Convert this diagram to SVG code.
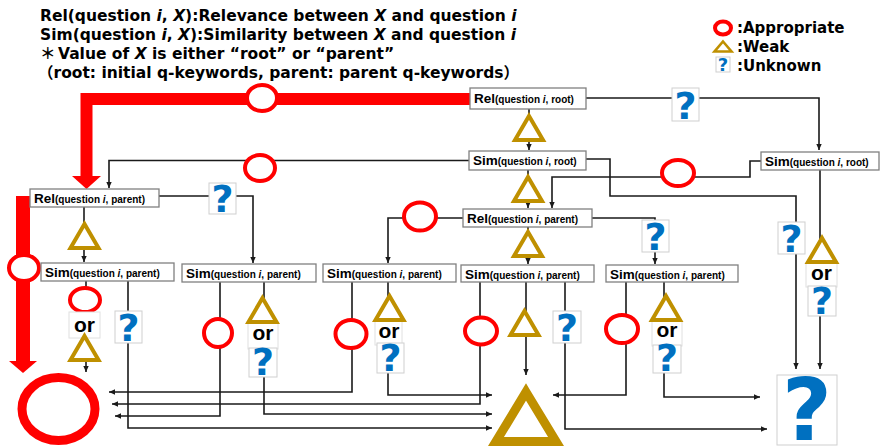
<svg xmlns="http://www.w3.org/2000/svg" width="881" height="448" viewBox="0 0 881 448">
<style>
.hdr{font-family:"DejaVu Sans","Liberation Sans",sans-serif;font-weight:bold;font-size:15.5px;fill:#000}
.leg{font-family:"DejaVu Sans","Liberation Sans",sans-serif;font-weight:bold;font-size:15px;fill:#000}
.it{font-style:italic}
.box{fill:#fff;stroke:#808080;stroke-width:1.3}
.nt{font-family:"Liberation Sans",Arial,sans-serif;font-weight:bold;font-size:10px;fill:#000}
.big{font-size:13.5px}
.ln{fill:none;stroke:#1a1a1a;stroke-width:1.6}
.red{fill:none;stroke:#ff0000}
.redf{fill:#ff0000}
.circ{fill:#fff;stroke:#ff0000;stroke-width:4}
.tri{fill:#fff;stroke:#bf9000;stroke-width:4}
.qb{fill:#fff;stroke:#cfcfcf;stroke-width:1}
.q{fill:#0070c0;font-family:"DejaVu Sans",sans-serif;font-weight:bold;font-size:38px;text-anchor:middle}
.qs{font-size:18px}
.qL{font-size:86px}
.orb{fill:#fff;stroke:#e0e0e0;stroke-width:1}
.or{font-family:"Liberation Sans",Arial,sans-serif;font-weight:bold;font-size:21px;text-anchor:middle;fill:#000}
</style>
<defs>
<marker id="ah" viewBox="0 0 10 10" refX="10" refY="5" markerWidth="6" markerHeight="6" markerUnits="userSpaceOnUse" orient="auto">
<path d="M0,0.5 L10,5 L0,9.5 Z" fill="#1a1a1a"/>
</marker>
<path id="tri" d="M0,-12 L14,12 L-14,12 Z"/>
</defs>
<rect width="881" height="448" fill="#fff"/>

<g id="header">
<text class="hdr" x="40" y="21">Rel(question <tspan class="it">i</tspan>, <tspan class="it">X</tspan>):Relevance between <tspan class="it">X</tspan> and question <tspan class="it">i</tspan></text>
<text class="hdr" x="40" y="40">Sim(question <tspan class="it">i</tspan>, <tspan class="it">X</tspan>):Similarity between <tspan class="it">X</tspan> and question <tspan class="it">i</tspan></text>
<text class="hdr" x="40" y="59"><tspan font-family="'Noto Sans CJK JP',sans-serif">＊</tspan><tspan x="58">Value of </tspan><tspan class="it">X</tspan> is either “root” or “parent”</text>
<text class="hdr" x="38" y="78"><tspan font-family="'Noto Sans CJK JP',sans-serif">（</tspan>root: initial q-keywords, parent: parent q-keywords<tspan font-family="'Noto Sans CJK JP',sans-serif">）</tspan></text>
</g>

<g id="legend">
<ellipse class="circ" cx="723" cy="28" rx="8" ry="6.5" stroke-width="2.6"/>
<path d="M723,41.5 L731.5,51.5 L714.5,51.5 Z" fill="#fff" stroke="#bf9000" stroke-width="2.6"/>
<rect class="qb" x="716" y="57" width="14" height="15"/>
<text class="q qs" x="723" y="71">?</text>
<text class="leg" x="737" y="33">:Appropriate</text>
<text class="leg" x="737" y="52">:Weak</text>
<text class="leg" x="737" y="71">:Unknown</text>
</g>

<g id="connectors">
<path class="red" d="M470,99 H86.5 V178" stroke-width="12"/>
<polygon class="redf" points="72,176 101,176 86.5,189"/>
<path class="red" d="M23,196 V362" stroke-width="14"/>
<polygon class="redf" points="9,361 37,361 23,373"/>
<path class="ln" d="M586,98 H819 V150" marker-end="url(#ah)"/>
<path class="ln" d="M529,109 V150" marker-end="url(#ah)"/>
<path class="ln" d="M469,160.5 H109 V188" marker-end="url(#ah)"/>
<path class="ln" d="M586,159 H610 V196 H796 V369" marker-end="url(#ah)"/>
<path class="ln" d="M528,170 V208" marker-end="url(#ah)"/>
<path class="ln" d="M761,161 H750 V177 H552 V208" marker-end="url(#ah)"/>
<path class="ln" d="M820,170 V369" marker-end="url(#ah)"/>
<path class="ln" d="M159,196 H253 V263" marker-end="url(#ah)"/>
<path class="ln" d="M84,207 V262" marker-end="url(#ah)"/>
<path class="ln" d="M463,218 H388 V263" marker-end="url(#ah)"/>
<path class="ln" d="M592,218 H655 V264" marker-end="url(#ah)"/>
<path class="ln" d="M528,227 V264" marker-end="url(#ah)"/>
<path class="ln" d="M86,281 V372" marker-end="url(#ah)"/>
<path class="ln" d="M128,281 V428 H492" marker-end="url(#ah)"/>
<path class="ln" d="M220,282 V416 H115" marker-end="url(#ah)"/>
<path class="ln" d="M264,282 V414 H492" marker-end="url(#ah)"/>
<path class="ln" d="M352,282 V392 H109" marker-end="url(#ah)"/>
<path class="ln" d="M388,282 V395 H492" marker-end="url(#ah)"/>
<path class="ln" d="M480,282 V404 H112" marker-end="url(#ah)"/>
<path class="ln" d="M526,282 V375" marker-end="url(#ah)"/>
<path class="ln" d="M565,282 V429 H767" marker-end="url(#ah)"/>
<path class="ln" d="M626,282 V395 H553" marker-end="url(#ah)"/>
<path class="ln" d="M664,282 V397 H760" marker-end="url(#ah)"/>
</g>

<g id="labels">
<ellipse class="circ" cx="262" cy="98" rx="15" ry="13"/>
<ellipse class="circ" cx="260" cy="168" rx="15" ry="13"/>
<ellipse class="circ" cx="678" cy="173" rx="16" ry="13"/>
<ellipse class="circ" cx="420" cy="216.5" rx="16" ry="14"/>
<ellipse class="circ" cx="24" cy="268" rx="15" ry="13" stroke-width="5"/>
<ellipse class="circ" cx="85" cy="300" rx="15" ry="12"/>
<ellipse class="circ" cx="218" cy="333" rx="14" ry="14"/>
<ellipse class="circ" cx="351" cy="334" rx="15.5" ry="14"/>
<ellipse class="circ" cx="481" cy="331" rx="16" ry="13.5"/>
<ellipse class="circ" cx="622" cy="329" rx="16" ry="14"/>

<use href="#tri" class="tri" x="529" y="128"/>
<use href="#tri" class="tri" x="528" y="189"/>
<use href="#tri" class="tri" x="528" y="244"/>
<use href="#tri" class="tri" x="84.5" y="236"/>
<use href="#tri" class="tri" x="524.5" y="323"/>

<rect class="orb" x="69" y="312" width="31" height="26"/>
<text class="or" x="84.5" y="332">or</text>
<use href="#tri" class="tri" x="84.5" y="348"/>

<rect class="orb" x="248" y="323" width="30" height="26"/>
<text class="or" x="263" y="340">or</text>
<use href="#tri" class="tri" x="262.5" y="310"/>
<rect class="qb" x="249" y="348" width="28" height="29"/>
<text class="q" x="263" y="375">?</text>

<rect class="orb" x="375" y="321" width="27" height="24"/>
<text class="or" x="389" y="338">or</text>
<use href="#tri" class="tri" x="389.5" y="308"/>
<rect class="qb" x="377" y="343" width="27" height="30"/>
<text class="q" x="390.5" y="371">?</text>

<rect class="orb" x="652" y="321" width="30" height="25"/>
<text class="or" x="667" y="337">or</text>
<use href="#tri" class="tri" x="666" y="308"/>
<rect class="qb" x="653" y="345" width="28" height="28"/>
<text class="q" x="667" y="371">?</text>

<rect class="orb" x="806" y="263" width="31" height="24"/>
<text class="or" x="821.5" y="280">or</text>
<use href="#tri" class="tri" x="822" y="250"/>
<rect class="qb" x="808" y="286" width="28" height="30"/>
<text class="q" x="822" y="314">?</text>

<rect class="qb" x="672" y="88" width="27" height="33"/>
<text class="q" x="685.5" y="119">?</text>
<rect class="qb" x="778" y="222" width="27" height="32"/>
<text class="q" x="791.5" y="252">?</text>
<rect class="qb" x="209" y="183" width="27" height="31"/>
<text class="q" x="222.5" y="212">?</text>
<rect class="qb" x="642" y="220" width="27" height="32"/>
<text class="q" x="655.5" y="250">?</text>
<rect class="qb" x="115" y="311" width="27" height="32"/>
<text class="q" x="128.5" y="341">?</text>
<rect class="qb" x="553" y="311" width="28" height="32"/>
<text class="q" x="567" y="341">?</text>
</g>

<g id="n-rel-root">
<rect class="box" x="470" y="88" width="116" height="21"/>
<text class="nt" x="474" y="103"><tspan class="big">Rel</tspan>(question <tspan class="it">i</tspan>, root)</text>
</g>
<g id="n-sim-root-1">
<rect class="box" x="469" y="151" width="117" height="19"/>
<text class="nt" x="473" y="165"><tspan class="big">Sim</tspan>(question <tspan class="it">i</tspan>, root)</text>
</g>
<g id="n-sim-root-2">
<rect class="box" x="761" y="152" width="118" height="18"/>
<text class="nt" x="765" y="166"><tspan class="big">Sim</tspan>(question <tspan class="it">i</tspan>, root)</text>
</g>
<g id="n-rel-parent-1">
<rect class="box" x="30" y="189" width="129" height="18"/>
<text class="nt" x="34" y="203"><tspan class="big">Rel</tspan>(question <tspan class="it">i</tspan>, parent)</text>
</g>
<g id="n-rel-parent-2">
<rect class="box" x="463" y="209" width="129" height="18"/>
<text class="nt" x="467" y="223"><tspan class="big">Rel</tspan>(question <tspan class="it">i</tspan>, parent)</text>
</g>
<g id="n-sim-parent-1">
<rect class="box" x="41" y="263" width="133" height="18"/>
<text class="nt" x="45" y="277"><tspan class="big">Sim</tspan>(question <tspan class="it">i</tspan>, parent)</text>
</g>
<g id="n-sim-parent-2">
<rect class="box" x="182" y="264" width="134" height="18"/>
<text class="nt" x="186" y="278"><tspan class="big">Sim</tspan>(question <tspan class="it">i</tspan>, parent)</text>
</g>
<g id="n-sim-parent-3">
<rect class="box" x="323" y="264" width="133" height="18"/>
<text class="nt" x="327" y="278"><tspan class="big">Sim</tspan>(question <tspan class="it">i</tspan>, parent)</text>
</g>
<g id="n-sim-parent-4">
<rect class="box" x="461" y="265" width="133" height="17"/>
<text class="nt" x="465" y="279"><tspan class="big">Sim</tspan>(question <tspan class="it">i</tspan>, parent)</text>
</g>
<g id="n-sim-parent-5">
<rect class="box" x="606" y="265" width="132" height="17"/>
<text class="nt" x="610" y="279"><tspan class="big">Sim</tspan>(question <tspan class="it">i</tspan>, parent)</text>
</g>

<g id="n-result-appropriate">
<ellipse cx="58.5" cy="409" rx="36.5" ry="31.5" fill="#fff" stroke="#ff0000" stroke-width="9"/>
</g>
<g id="n-result-weak">
<path d="M526,392 L556,441.5 L496,441.5 Z" fill="#fff" stroke="#bf9000" stroke-width="9"/>
</g>
<g id="n-result-unknown">
<rect class="qb" x="777" y="375" width="60" height="70"/>
<text class="q qL" x="807" y="440">?</text>
</g>
</svg>
